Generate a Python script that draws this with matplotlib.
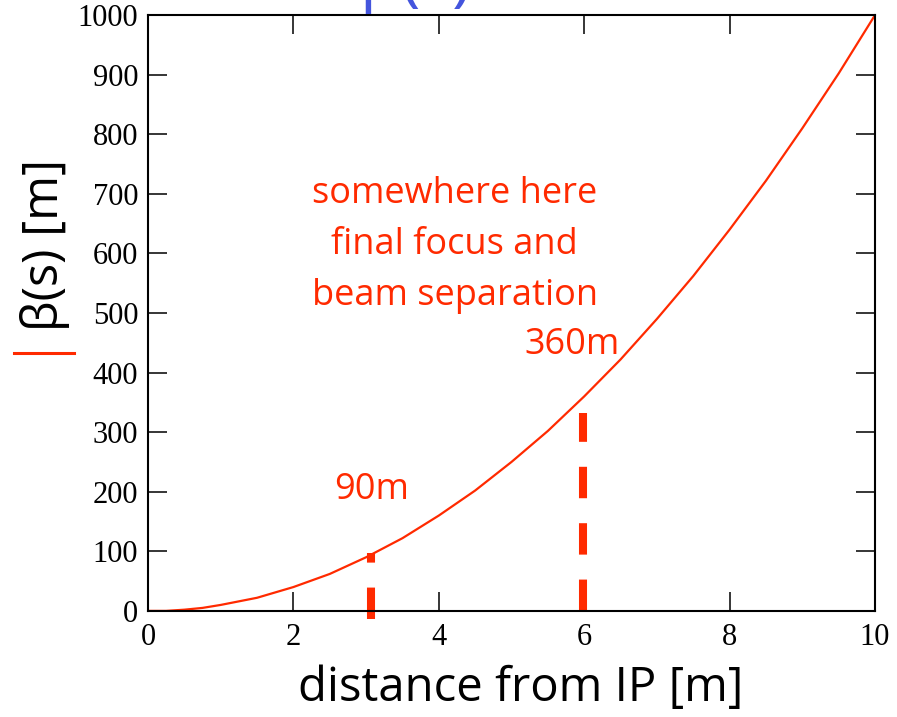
import matplotlib
matplotlib.use("Agg")
import matplotlib.pyplot as plt
from matplotlib.lines import Line2D

# beta function, every 0.25 m
s_vals = [i * 0.25 for i in range(41)]
beta_vals = [0, 0, 2, 5, 10, 16, 22, 31, 40, 51, 62, 76, 90, 106, 122, 141,
             160, 181, 202, 226, 250, 276, 302, 331, 360, 391, 422, 456, 490,
             526, 562, 601, 640, 681, 722, 766, 810, 856, 902, 951, 1000]

# dashed markers
mark_s = [3.07, 5.98]
mark_bottom = [-13, 0]
mark_top = [97, 332]

x_ticks = [0, 2, 4, 6, 8, 10]
y_ticks = list(range(0, 1001, 100))

red = "#ff2a00"
hand = "Open Sans"
serif = "Liberation Serif"

fig = plt.figure(figsize=(8.97, 7.17), dpi=100)
ax = fig.add_axes([0.165, 0.148, 0.8105, 0.831])

ax.plot(s_vals, beta_vals, color=red, lw=1.6)
for xs, y0, y1 in zip(mark_s, mark_bottom, mark_top):
    ax.plot([xs, xs], [y0, y1], color=red, lw=5.8,
            linestyle=(0, (3.9, 3.1)), solid_capstyle="butt",
            dash_capstyle="butt", clip_on=False)

ax.set_xlim(0, 10)
ax.set_ylim(0, 1000)
ax.set_xticks(x_ticks)
ax.set_yticks(y_ticks)
ax.tick_params(direction="in", top=True, right=True, length=14, width=1.1,
               labelsize=22, pad=7)
ax.tick_params(axis="x", pad=9)
for lab in ax.get_xticklabels() + ax.get_yticklabels():
    lab.set_fontfamily(serif)
for sp in ax.spines.values():
    sp.set_linewidth(1.5)

ax.text(0.422, 0.614, "somewhere here\nfinal focus and\nbeam separation",
        transform=ax.transAxes, ha="center", va="center", color=red,
        fontsize=26, fontfamily=hand, linespacing=1.55)
ax.text(5.83, 446, "360m", color=red, fontsize=26, fontfamily=hand,
        ha="center", va="center")
ax.text(3.07, 203, "90m", color=red, fontsize=26, fontfamily=hand,
        ha="center", va="center")

fig.text(0.580, 0.040, "distance from IP [m]", ha="center", va="center",
         fontsize=34, fontfamily=hand)
fig.text(0.050, 0.658, "β(s) [m]", rotation=90, ha="center", va="center",
         fontsize=35, fontfamily=hand)
fig.add_artist(Line2D([0.016, 0.082], [1 - 353 / 717, 1 - 353 / 717],
                      color=red, lw=2.2, transform=fig.transFigure))

# title cut off at the top edge
fig.text(0.40, 1 + 2 / 717, "β(s)", ha="left", va="baseline",
         fontsize=48, color="#4455dd", fontfamily=hand)

fig.savefig("out.png", dpi=100)
